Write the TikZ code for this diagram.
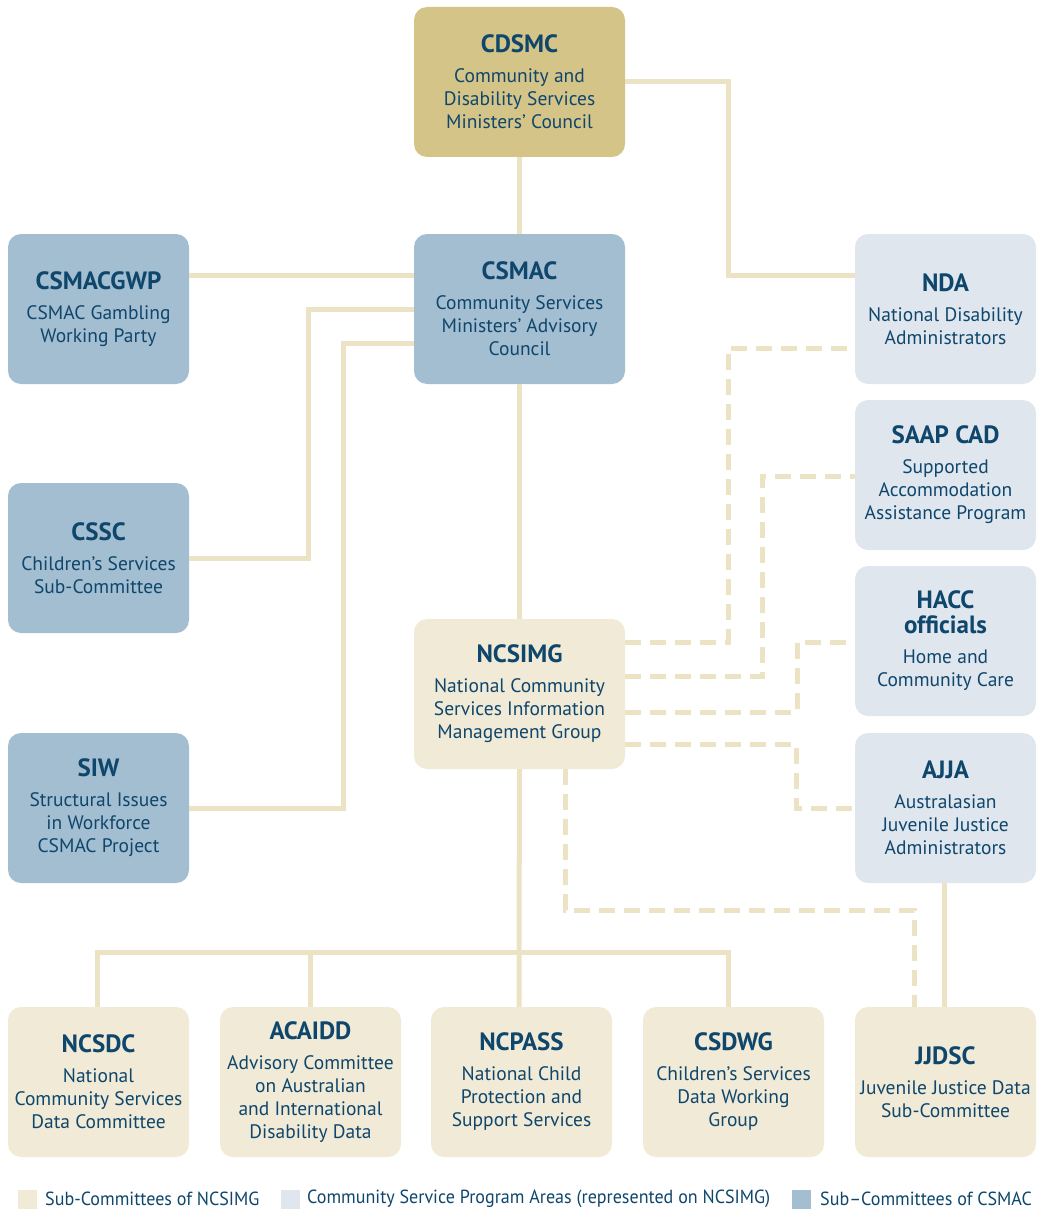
\documentclass[tikz,border=0pt]{standalone}
\usepackage{fontspec}
\setmainfont{PT Sans}
\newfontfamily\keyfont[FakeStretch=0.95]{PT Sans}
\usepackage{tikz}

\definecolor{gold}{RGB}{213,196,136}
\definecolor{steel}{RGB}{163,189,209}
\definecolor{mist}{RGB}{223,230,238}
\definecolor{cream}{RGB}{241,234,215}
\definecolor{sand}{RGB}{236,226,196}
\definecolor{ink}{RGB}{14,70,108}

\newcommand\boxhead[1]{{\fontsize{25}{25}\selectfont\bfseries #1}\\[7pt]}

\begin{document}
\begin{tikzpicture}[x=1pt,y=-1pt,
    box/.style={rounded corners=13pt, minimum width=181pt, minimum height=150pt,
        inner sep=0pt, align=center, text=ink, font=\fontsize{19.5}{23}\selectfont},
    council/.style={box, fill=gold, minimum width=211pt},
    advisory/.style={box, fill=steel},
    program/.style={box, fill=mist},
    subcom/.style={box, fill=cream},
    link/.style={draw=sand, line width=5pt},
    dotlink/.style={link, dash pattern=on 16pt off 9pt},
    swatch/.style={minimum size=19pt, inner sep=0pt},
    keytext/.style={anchor=west, inner sep=0pt, text=ink, font=\keyfont\fontsize{19}{20}\selectfont}]
    \useasboundingbox (0,0) rectangle (1043,1209);

    % Ministers and advisory council
    \node[council] (cdsmc) at (519.5,82) {\boxhead{CDSMC}Community and\\ Disability Services\\ Ministers' Council};
    \node[advisory, minimum width=211pt] (csmac) at (519.5,309) {\boxhead{CSMAC}Community Services\\ Ministers' Advisory\\ Council};
    \node[subcom, minimum width=211pt] (ncsimg) at (519.5,694) {\boxhead{NCSIMG}National Community\\ Services Information\\ Management Group};

    % Sub-committees of CSMAC
    \node[advisory] (csmacgwp) at (98.5,309) {\boxhead{CSMACGWP}CSMAC Gambling\\ Working Party};
    \node[advisory] (cssc) at (98.5,558) {\boxhead{CSSC}Children's Services\\ Sub-Committee};
    \node[advisory] (siw) at (98.5,808) {\boxhead{SIW}Structural Issues\\ in Workforce\\ CSMAC Project};

    % Program areas
    \node[program] (nda) at (945.5,309) {\boxhead{NDA}National Disability\\ Administrators};
    \node[program] (saap) at (945.5,475) {\boxhead{SAAP CAD}Supported\\ Accommodation\\ Assistance Program};
    \node[program] (hacc) at (945.5,641) {{\fontsize{25}{25}\selectfont\bfseries HACC}\\[2pt] \boxhead{officials}Home and\\ Community Care};
    \node[program] (ajja) at (945.5,808) {\boxhead{AJJA}Australasian\\ Juvenile Justice\\ Administrators};

    % Sub-committees of NCSIMG
    \node[subcom] (ncsdc) at (98.5,1082) {\boxhead{NCSDC}National\\ Community Services\\ Data Committee};
    \node[subcom] (acaidd) at (310.5,1082) {\boxhead{ACAIDD}Advisory Committee\\ on Australian\\ and International\\ Disability Data};
    \node[subcom] (ncpass) at (521.5,1082) {\boxhead{NCPASS}National Child\\ Protection and\\ Support Services};
    \node[subcom] (csdwg) at (733.5,1082) {\boxhead{CSDWG}Children's Services\\ Data Working\\ Group};
    \node[subcom] (jjdsc) at (945.5,1082) {\boxhead{JJDSC}Juvenile Justice Data\\ Sub-Committee};

    % Solid links
    \draw[link] (cdsmc.south) -- (csmac.north);
    \draw[link] (cdsmc.east) -| (728,275) -- (nda.west |- 0,275);
    \draw[link] (csmacgwp.east |- 0,275) -- (csmac.west |- 0,275);
    \draw[link] (csmac.west |- 0,309) -| (308,558) -- (cssc.east);
    \draw[link] (csmac.west |- 0,343) -| (343,808) -- (siw.east);
    \draw[link] (csmac.south) -- (ncsimg.north);
    \coordinate (bus) at (519,952);
    \draw[link] (ncsimg.south) -- (bus) -- (ncpass.north -| bus);
    \draw[link] (97,0 |- ncsdc.north) |- (728,952) -- (728,0 |- csdwg.north);
    \draw[link] (310,952) -- (310,0 |- acaidd.north);
    \draw[link] (ajja.south -| 944,0) -- (944,0 |- jjdsc.north);

    % Dashed links
    \draw[dotlink] (ncsimg.east |- 0,642) -| (728,348) -- (nda.west |- 0,348);
    \draw[dotlink] (ncsimg.east |- 0,676) -| (762,476) -- (saap.west |- 0,476);
    \draw[dotlink] (ncsimg.east |- 0,712) -| (797,642) -- (hacc.west |- 0,642);
    \draw[dotlink] (ncsimg.east |- 0,744) -| (796,808) -- (ajja.west);
    \draw[dotlink] (565,0 |- ncsimg.south) |- (914,910) -- (914,0 |- jjdsc.north);

    % Key
    \node[swatch, fill=cream] (keyA) at (27.5,1199.5) {};
    \node[keytext] (keyAtext) at (45,1199) {Sub-Committees of NCSIMG};
    \node[swatch, fill=mist] (keyB) at (290.5,1199.5) {};
    \node[keytext] (keyBtext) at (307,1199) {Community Service Program Areas (represented on NCSIMG)};
    \node[swatch, fill=steel] (keyC) at (801.5,1199.5) {};
    \node[keytext] (keyCtext) at (820,1199) {Sub–Committees of CSMAC};
\end{tikzpicture}
\end{document}
